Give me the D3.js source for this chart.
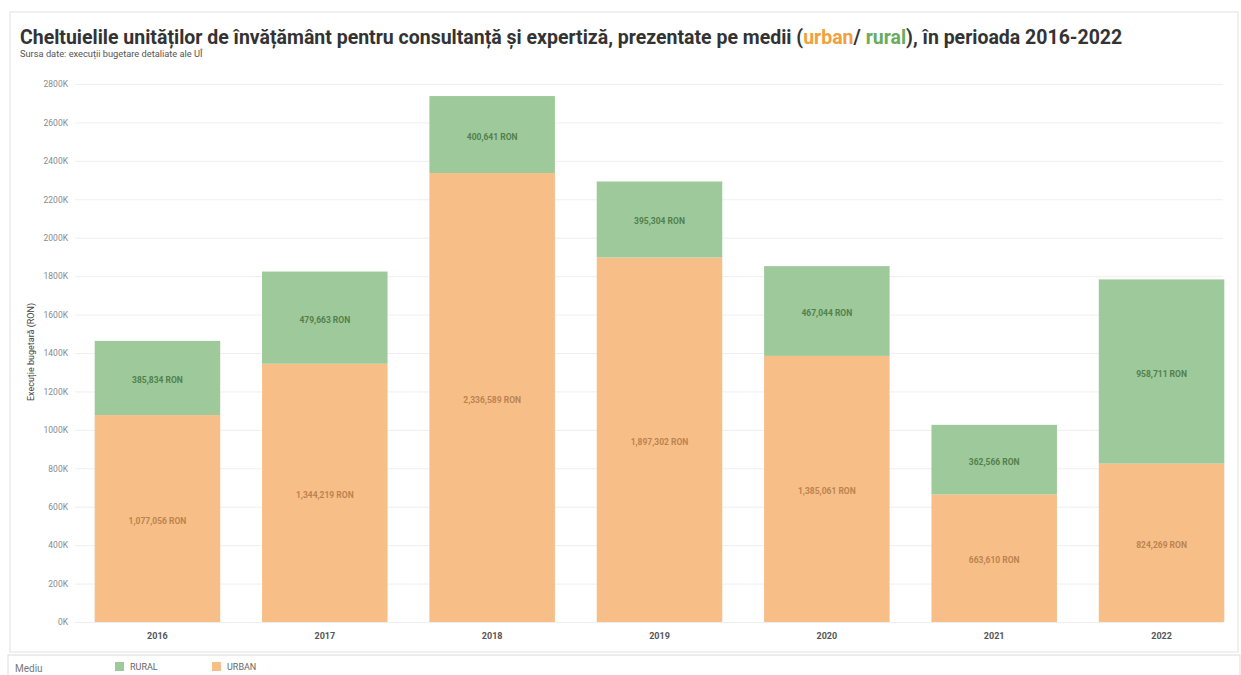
<!DOCTYPE html>
<html>
<head>
<meta charset="utf-8">
<script src="https://cdn.jsdelivr.net/npm/d3@7"></script>
<style>
    body { margin: 0; background: #fff; }
    svg { display: block; font-family: Roboto, "Noto Sans", sans-serif; }
</style>
</head>
<body>
<div id="draw_here"></div>
<script type="text/javascript">
    // Data
    years = ["2016", "2017", "2018", "2019", "2020", "2021", "2022"]
    urban = [1077056, 1344219, 2336589, 1897302, 1385061, 663610, 824269]
    rural = [385834, 479663, 400641, 395304, 467044, 362566, 958711]
    yTicks = [0, 200000, 400000, 600000, 800000, 1000000, 1200000, 1400000,
              1600000, 1800000, 2000000, 2200000, 2400000, 2600000, 2800000]
    series = ["URBAN", "RURAL"]

    canvas = ({width: 1241, height: 675})
    margin = ({top: 84, right: 10, bottom: 53, left: 88})

    green = "#9ec99a"
    orange = "#f7bf87"
    green_txt = "#52804d"
    orange_txt = "#bb8350"

    var svg = d3.select("div#draw_here").append("svg")
        .attr("width", canvas.width)
        .attr("height", canvas.height)

    // frame
    svg.append("rect")
        .attr("x", 10).attr("y", 12)
        .attr("width", 1228).attr("height", 640)
        .attr("fill", "none").attr("stroke", "#e2e2e2")
    svg.append("rect")
        .attr("x", 8).attr("y", 655)
        .attr("width", 1232).attr("height", 30)
        .attr("fill", "none").attr("stroke", "#dcdcdc")

    // scales
    x = d3.scaleBand()
        .domain(years)
        .range([margin.left, canvas.width - margin.right])
        .paddingInner(0.25)
        .paddingOuter(0.04)

    y = d3.scaleLinear()
        .domain([0, 2800000])
        .range([canvas.height - margin.bottom, margin.top])

    // grid + y axis
    yAxis = g => g
        .attr("transform", `translate(${margin.left - 13},0)`)
        .call(d3.axisLeft(y).tickValues(yTicks).tickSize(0).tickPadding(7)
            .tickFormat(d => (d / 1000) + "K"))
        .call(g => g.select(".domain").remove())
        .call(g => g.selectAll(".tick text")
            .attr("fill", "#8a8a8a")
            .attr("font-size", 8.5)
            .attr("font-family", "Roboto, sans-serif"))
        .call(g => g.selectAll(".tick line").clone()
            .attr("x2", canvas.width - margin.left - 5)
            .attr("stroke", "#efefef"))

    svg.append("g").call(yAxis)

    // stacked bars
    stack = d3.stack().keys(series)
    table = years.map((d, i) => ({year: d, URBAN: urban[i], RURAL: rural[i]}))
    stacked = stack(table)
    color = d3.scaleOrdinal().domain(series).range([orange, green])
    txtColor = d3.scaleOrdinal().domain(series).range([orange_txt, green_txt])
    fmt = d3.format(",")

    layers = svg.append("g").selectAll("g")
        .data(stacked)
        .join("g")
        .attr("fill", d => color(d.key))

    layers.selectAll("rect")
        .data(d => d)
        .join("rect")
        .attr("x", d => x(d.data.year))
        .attr("y", d => y(d[1]))
        .attr("width", x.bandwidth())
        .attr("height", d => y(d[0]) - y(d[1]))

    svg.append("g").selectAll("g")
        .data(stacked)
        .join("g")
        .attr("fill", d => txtColor(d.key))
        .each(function(layer) {
            d3.select(this).selectAll("text")
                .data(layer)
                .join("text")
                .attr("x", d => x(d.data.year) + x.bandwidth() / 2)
                .attr("y", d => (y(d[0]) + y(d[1])) / 2 + 5)
                .attr("text-anchor", "middle")
                .attr("font-size", 8.5)
                .attr("font-weight", "bold")
                .text(d => fmt(d.data[layer.key]) + " RON")
        })

    // x axis
    xAxis = g => g
        .attr("transform", `translate(0,${canvas.height - margin.bottom})`)
        .call(d3.axisBottom(x).tickSize(0).tickPadding(11))
        .call(g => g.select(".domain").remove())
        .call(g => g.selectAll(".tick text")
            .attr("fill", "#555")
            .attr("font-size", 9)
            .attr("font-weight", "bold")
            .attr("font-family", "Roboto, sans-serif"))

    svg.append("g").call(xAxis)

    // y axis title
    svg.append("text")
        .attr("transform", "translate(34,352) rotate(-90)")
        .attr("text-anchor", "middle")
        .attr("font-size", 9)
        .attr("fill", "#444")
        .text("Execuție bugetară (RON)")

    // title, squeezed to mimic the condensed face
    titleG = svg.append("g")
    title = titleG.append("text")
        .attr("x", 0).attr("y", 0)
        .attr("font-size", 21)
        .attr("font-weight", "bold")
        .attr("fill", "#333")
    title.append("tspan").text("Cheltuielile unităților de învățământ pentru consultanță și expertiză, prezentate pe medii (")
    title.append("tspan").attr("fill", "#f0a03c").text("urban")
    title.append("tspan").text("/ ")
    title.append("tspan").attr("fill", "#6aab5c").text("rural")
    title.append("tspan").text("), în perioada 2016-2022")
    tw = title.node().getComputedTextLength()
    titleG.attr("transform", `translate(20,44) scale(${1103 / tw},1)`)

    subG = svg.append("g")
    sub = subG.append("text")
        .attr("font-size", 9)
        .attr("fill", "#555")
        .text("Sursa date: execuții bugetare detaliate ale UÎ")
    sw = sub.node().getComputedTextLength()
    subG.attr("transform", `translate(20,57) scale(${183 / sw},1)`)

    // legend
    svg.append("text")
        .attr("x", 15).attr("y", 672)
        .attr("font-size", 10)
        .attr("fill", "#777")
        .text("Mediu")

    legend = svg.append("g").selectAll("g")
        .data(["RURAL", "URBAN"])
        .join("g")
        .attr("transform", (d, i) => `translate(${115 + i * 97},662)`)
    legend.append("rect")
        .attr("width", 9).attr("height", 9)
        .attr("fill", d => d == "RURAL" ? green : orange)
    legend.append("text")
        .attr("x", 15).attr("y", 8)
        .attr("font-size", 9)
        .attr("fill", "#666")
        .text(d => d)
</script>
</body>
</html>
